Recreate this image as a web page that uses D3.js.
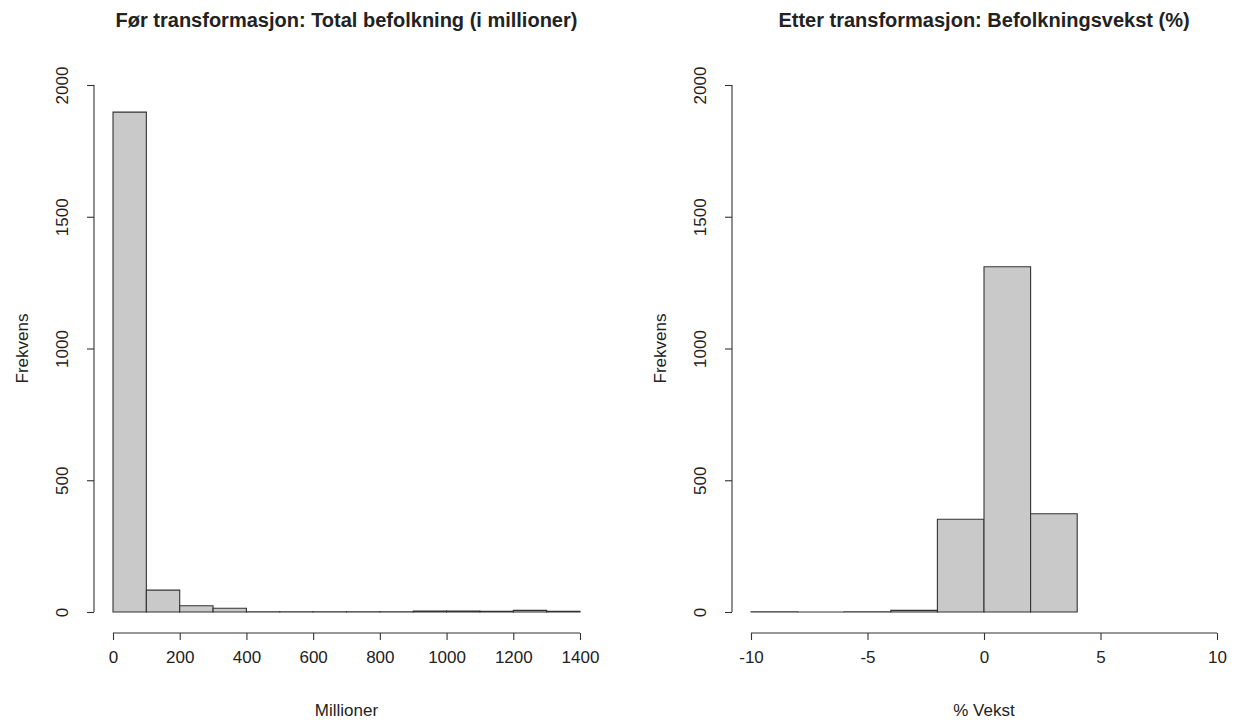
<!DOCTYPE html>
<html>
<head>
<meta charset="utf-8">
<script src="https://cdn.jsdelivr.net/npm/d3@7"></script>
<style>
  html, body { margin: 0; padding: 0; background: #fff; }
  svg { display: block; font-family: "Liberation Sans", Arial, Helvetica, sans-serif; }
</style>
</head>
<body>
<svg id="chart" width="1236" height="720"></svg>
<script>
// Histogram of total population (millions), bins of width 100
const popBinEdges = [0, 100, 200, 300, 400, 500, 600, 700, 800, 900, 1000, 1100, 1200, 1300, 1400];
const popCounts   = [1897, 83, 24, 14, 1, 1, 1, 1, 1, 4, 4, 3, 6, 3];
const popTicks    = [0, 200, 400, 600, 800, 1000, 1200, 1400];

// Histogram of population growth (%), bins of width 2
const growthBinEdges = [-10, -8, -6, -4, -2, 0, 2, 4];
const growthCounts   = [1, 0, 1, 6, 352, 1310, 373];
const growthTicks    = [-10, -5, 0, 5, 10];

const freqTicks = [0, 500, 1000, 1500, 2000];

const titles = [
  "Før transformasjon: Total befolkning (i millioner)",
  "Etter transformasjon: Befolkningsvekst (%)"
];
const xLabels = ["Millioner", "% Vekst"];
const yLabel = "Frekvens";

const svg = d3.select("#chart");

const panels = [
  { edges: popBinEdges, counts: popCounts, ticks: popTicks,
    xDomain: [0, 1400], xRange: [113, 580], yAxisX: 94, plotLeft: 94, plotRight: 599,
    title: titles[0], xLabel: xLabels[0] },
  { edges: growthBinEdges, counts: growthCounts, ticks: growthTicks,
    xDomain: [-10, 10], xRange: [751, 1217], yAxisX: 732, plotLeft: 732, plotRight: 1236,
    title: titles[1], xLabel: xLabels[1] }
];

const yBase = 612, yTop = 85, xAxisY = 633;
const ink = "#222";

panels.forEach(p => {
  const x = d3.scaleLinear().domain(p.xDomain).range(p.xRange);
  const y = d3.scaleLinear().domain([0, 2000]).range([yBase, yTop]);
  const g = svg.append("g");

  const bins = p.counts.map((c, i) => ({ x0: p.edges[i], x1: p.edges[i + 1], n: c }));

  // bars as closed paths so empty bins still show as a flat outline
  g.selectAll("path.bar").data(bins).join("path")
    .attr("class", "bar")
    .attr("d", d => {
      const l = x(d.x0), r = x(d.x1), t = y(d.n), b = y(0);
      return `M${l},${b}V${t}H${r}V${b}Z`;
    })
    .attr("fill", "#c9c9c9")
    .attr("stroke", "#333")
    .attr("stroke-width", 1.1);

  // x axis
  const xAxis = d3.axisBottom(x).tickValues(p.ticks).tickSize(7).tickSizeOuter(0).tickPadding(11)
    .tickFormat(d3.format("d"));
  const gx = g.append("g").attr("transform", `translate(0,${xAxisY})`).call(xAxis);
  gx.select(".domain").attr("stroke", "#333").attr("stroke-width", 1.1)
    .attr("d", `M${x(p.ticks[0])},0H${x(p.ticks[p.ticks.length - 1])}`);
  gx.selectAll(".tick line").attr("stroke", "#333").attr("stroke-width", 1.1);
  gx.selectAll(".tick text").attr("font-size", 17).attr("fill", ink)
    .attr("font-family", "Liberation Sans, Arial, sans-serif")
    .text(d => d < 0 ? "-" + Math.abs(d) : d);

  // y axis
  const yAxis = d3.axisLeft(y).tickValues(freqTicks).tickSize(7).tickSizeOuter(0).tickPadding(0)
    .tickFormat(d3.format("d"));
  const gy = g.append("g").attr("transform", `translate(${p.yAxisX},0)`).call(yAxis);
  gy.select(".domain").attr("stroke", "#333").attr("stroke-width", 1.1)
    .attr("d", `M0,${y(0)}V${y(2000)}`);
  gy.selectAll(".tick line").attr("stroke", "#333").attr("stroke-width", 1.1);
  gy.selectAll(".tick text")
    .attr("font-size", 17).attr("fill", ink)
    .attr("font-family", "Liberation Sans, Arial, sans-serif")
    .attr("x", null).attr("dy", null)
    .attr("text-anchor", "middle")
    .attr("transform", "translate(-26,0) rotate(-90)");

  const cx = (p.plotLeft + p.plotRight) / 2;

  g.append("text")
    .attr("x", cx).attr("y", 27)
    .attr("text-anchor", "middle")
    .attr("font-size", 20).attr("font-weight", "bold").attr("fill", ink)
    .text(p.title);

  g.append("text")
    .attr("x", cx).attr("y", 716)
    .attr("text-anchor", "middle")
    .attr("font-size", 17).attr("fill", ink)
    .text(p.xLabel);

  g.append("text")
    .attr("transform", `translate(${p.yAxisX - 66},${(64 + 633) / 2}) rotate(-90)`)
    .attr("text-anchor", "middle")
    .attr("font-size", 17).attr("fill", ink)
    .text(yLabel);
});
</script>
</body>
</html>
